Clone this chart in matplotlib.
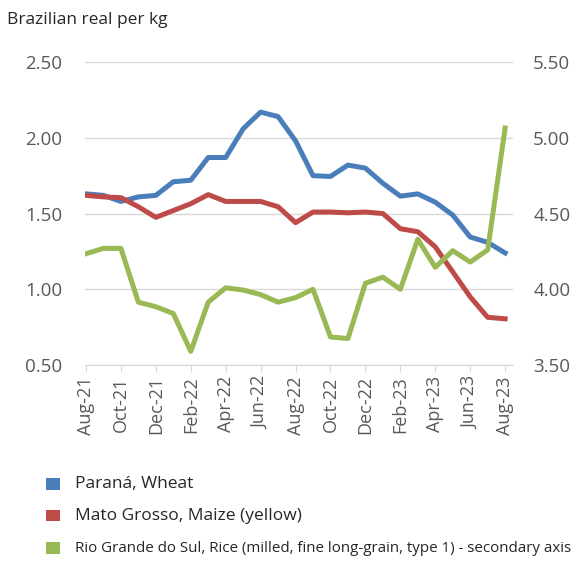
import matplotlib
matplotlib.use("Agg")
import matplotlib.pyplot as plt
from matplotlib.patches import Rectangle

months = ["Aug-21","Sep-21","Oct-21","Nov-21","Dec-21","Jan-22","Feb-22","Mar-22","Apr-22","May-22",
          "Jun-22","Jul-22","Aug-22","Sep-22","Oct-22","Nov-22","Dec-22","Jan-23","Feb-23","Mar-23",
          "Apr-23","May-23","Jun-23","Jul-23","Aug-23"]
wheat = [1.63,1.62,1.58,1.61,1.62,1.71,1.72,1.87,1.87,2.06,2.17,2.14,1.98,1.75,1.745,1.82,1.80,1.70,
         1.615,1.63,1.575,1.49,1.345,1.31,1.24]
maize = [1.62,1.61,1.605,1.545,1.475,1.52,1.565,1.625,1.58,1.58,1.58,1.545,1.44,1.51,1.51,1.505,1.51,
         1.50,1.40,1.38,1.28,1.115,0.95,0.815,0.805]
rice = [4.235,4.27,4.27,3.915,3.885,3.84,3.59,3.915,4.01,3.995,3.965,3.915,3.945,4.0,3.685,3.675,4.04,
        4.08,4.0,4.33,4.145,4.255,4.18,4.26,5.065]
labels = ["Paraná, Wheat", "Mato Grosso, Maize (yellow)",
          "Rio Grande do Sul, Rice (milled, fine long-grain, type 1) - secondary axis"]
colors = ["#4A7EBB", "#BE4B48", "#98B954"]

plt.rcParams['font.family'] = ['Open Sans', 'DejaVu Sans']
fig = plt.figure(figsize=(5.79, 5.62), dpi=100)
ax = fig.add_axes([0.147, 0.3505, 0.739, 0.539])
ax2 = ax.twinx()

x = list(range(len(months)))
ax.plot(x, wheat, color=colors[0], lw=3.6, solid_joinstyle='round', zorder=3)
ax.plot(x, maize, color=colors[1], lw=3.6, solid_joinstyle='round', zorder=3)
ax2.plot(x, rice, color=colors[2], lw=3.6, solid_joinstyle='round', zorder=3)

ax.set_xlim(-0.05, 24.45)
ax.set_ylim(0.5, 2.5)
ax2.set_ylim(3.5, 5.5)
ax.set_yticks([0.5, 1.0, 1.5, 2.0, 2.5])
ax.set_yticklabels([f"{v:.2f}" for v in [0.5, 1.0, 1.5, 2.0, 2.5]])
ax2.set_yticks([3.5, 4.0, 4.5, 5.0, 5.5])
ax2.set_yticklabels([f"{v:.2f}" for v in [3.5, 4.0, 4.5, 5.0, 5.5]])
ax.set_xticks(x[::2])
ax.set_xticklabels(months[::2], rotation=90)

for a in (ax, ax2):
    for s in a.spines.values():
        s.set_visible(False)
ax.spines['bottom'].set_visible(True)
ax.spines['bottom'].set_color('#D9D9D9')
ax.grid(axis='y', color='#D9D9D9', lw=1)
ax.set_axisbelow(True)
ax.tick_params(axis='y', length=0, labelsize=13.5, labelcolor='#595959', pad=16.5)
ax2.tick_params(axis='y', length=0, labelsize=13.5, labelcolor='#595959', pad=14.5)
ax.tick_params(axis='x', length=5, color='#D9D9D9', labelsize=13, labelcolor='#595959', pad=3)

fig.text(0.012, 0.964, "Brazilian real per kg", fontsize=12.5, color='#262626', ha='left', va='center')

rows = [0.1388, 0.0819, 0.0249]
sizes = [12.5, 12.5, 10.9]
for c, lab, yy, fs in zip(colors, labels, rows, sizes):
    fig.patches.append(Rectangle((0.0795, yy - 0.0098), 0.024, 0.0196, transform=fig.transFigure,
                                 facecolor=c, edgecolor='none', figure=fig))
    fig.text(0.1295, yy, lab, fontsize=fs, color='#262626', ha='left', va='center')

fig.savefig("out.png", dpi=100)
